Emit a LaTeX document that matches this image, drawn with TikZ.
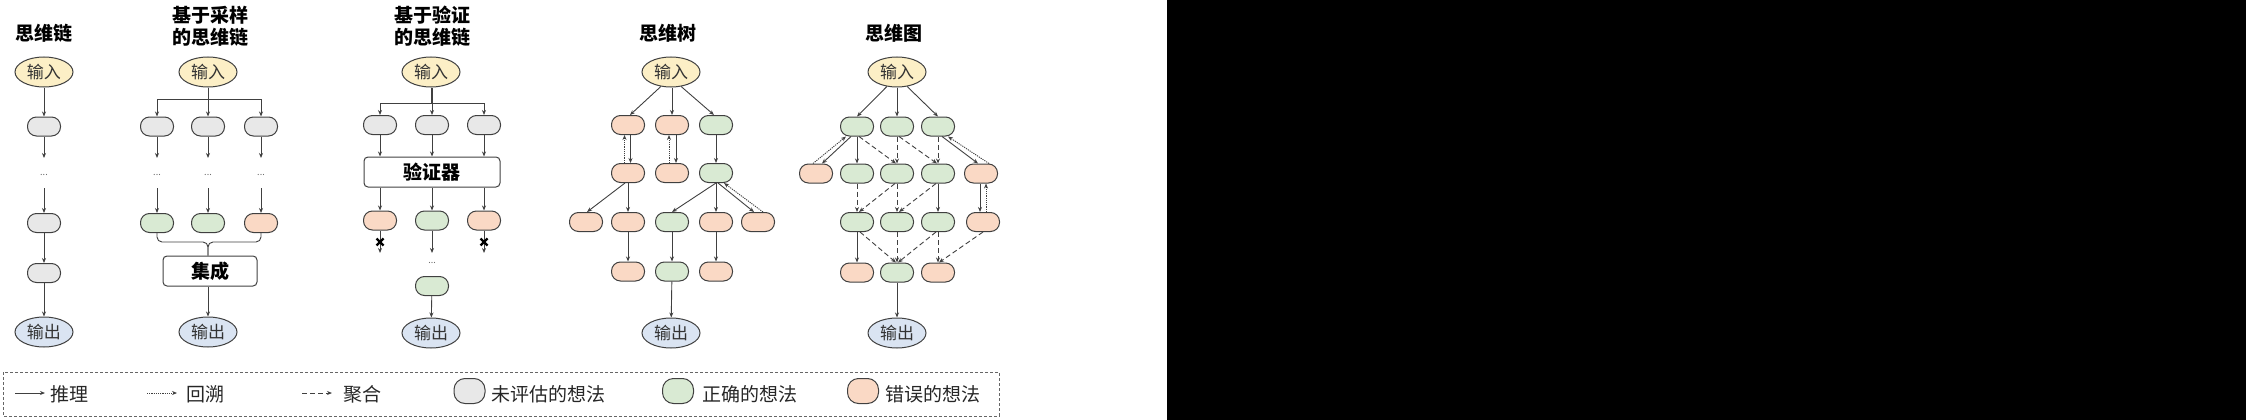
\documentclass[tikz,border=0pt]{standalone}
\usepackage{fontspec}
\setmainfont{Noto Sans CJK SC}
\usetikzlibrary{arrows.meta,calc,shapes.geometric}
\definecolor{edgec}{HTML}{404040}
\definecolor{grayc}{HTML}{E8E8E8}
\definecolor{greenc}{HTML}{D9EAD3}
\definecolor{orangec}{HTML}{FAD9C5}
\definecolor{yellowc}{HTML}{FCEFC6}
\definecolor{bluec}{HTML}{DAE4F2}
\begin{document}
\begin{tikzpicture}[x=1pt,y=-1pt,
  thought/.style={draw=edgec, line width=1pt, rounded corners=9pt, minimum width=33pt, minimum height=19pt, inner sep=0pt},
  gth/.style={thought, fill=grayc},
  gr/.style={thought, fill=greenc},
  bad/.style={thought, fill=orangec},
  inp/.style={ellipse, draw=edgec, line width=1pt, fill=yellowc, minimum width=58pt, minimum height=30pt, inner sep=0pt, font=\fontsize{17}{17}\selectfont, text=black!80},
  outp/.style={inp, fill=bluec},
  ttl/.style={font=\fontsize{19}{22}\selectfont\bfseries, align=center},
  boxn/.style={draw=edgec, line width=1pt, rounded corners=4pt, inner sep=0pt, font=\fontsize{19}{19}\selectfont\bfseries},
  dts/.style={font=\fontsize{9}{9}\selectfont, text=black!60, inner sep=0pt},
  arr/.style={draw=edgec, line width=0.9pt, -{Stealth[length=5pt,width=4pt]}},
  ln/.style={draw=edgec, line width=0.9pt},
  bk/.style={arr, dash pattern=on 1.2pt off 1pt},
  ag/.style={arr, dash pattern=on 5pt off 3pt},
  legt/.style={font=\fontsize{19}{19}\selectfont, text=black!85, anchor=west, inner sep=0pt},
  legn/.style={draw=edgec, line width=1pt, rounded corners=11pt, minimum width=31pt, minimum height=25pt, inner sep=0pt},
  xm/.style={line width=2.2pt, black}
]
\useasboundingbox (0,0) rectangle (2246,420);
\fill[black] (1167,0) rectangle (2246,420);

% ---------- Column 1: CoT ----------
\node[ttl] (t1) at (44,33) {思维链};
\node[inp] (a-in) at (44,72) {输入};
\node[gth] (a1) at (44,126.5) {};
\coordinate (a1e) at (44,158);
\node[dts] (adots) at (44,175) {...};
\coordinate (a2s) at (44,188);
\node[gth] (a2) at (44,223) {};
\node[gth] (a3) at (44,273) {};
\node[outp] (a-out) at (44,332) {输出};
\draw[arr] (a-in) -- (a1);
\draw[arr] (a1) -- (a1e);
\draw[arr] (a2s) -- (a2);
\draw[arr] (a2) -- (a3);
\draw[arr] (a3) -- (a-out);

% ---------- Column 2: CoT-SC ----------
\node[ttl] (t2) at (210,26) {基于采样\\的思维链};
\node[inp] (b-in) at (208,72) {输入};
\node[gth] (b1) at (157,126.5) {};
\node[gth] (b2) at (208,126.5) {};
\node[gth] (b3) at (261,126.5) {};
\draw[arr] (b-in.south) -- ++(0,12) -| (b1);
\draw[arr] (b-in.south) -- ++(0,12) -| (b3);
\draw[arr] (b-in) -- (b2);
\foreach \n/\x in {1/157,2/208,3/261}{
  \coordinate (b\n e) at (\x,158);
  \node[dts] (bdots\n) at (\x,175) {...};
  \coordinate (b\n s) at (\x,188);
  \draw[arr] (b\n) -- (b\n e);
}
\node[gr] (b4) at (157,223) {};
\node[gr] (b5) at (208,223) {};
\node[bad] (b6) at (261,223) {};
\draw[arr] (b1s) -- (b4);
\draw[arr] (b2s) -- (b5);
\draw[arr] (b3s) -- (b6);
\node[boxn, minimum width=94pt, minimum height=30pt] (ens) at (210,271) {集成};
\coordinate (bj) at (208,242);
\draw[ln, rounded corners=5pt] (b4.south) |- (bj) -- (ens.north -| bj);
\draw[ln, rounded corners=5pt] (b6.south) |- (bj) -- (ens.north -| bj);
\node[outp] (b-out) at (208,332) {输出};
\draw[arr] (ens.south -| b-out) -- (b-out);

% ---------- Column 3: verifier ----------
\node[ttl] (t3) at (432,26) {基于验证\\的思维链};
\node[inp] (c-in) at (431,72) {输入};
\node[gth] (c1) at (380,125) {};
\node[gth] (c2) at (432,125) {};
\node[gth] (c3) at (484,125) {};
\draw[arr] (c-in.south) -- ++(0,16) -| (c1);
\draw[arr] (c-in.south) -- ++(0,16) -| (c3);
\draw[arr] (c-in.south -| c2) -- (c2);
\node[boxn, minimum width=136pt, minimum height=30pt] (ver) at (432,172) {验证器};
\draw[arr] (c1) -- (c1 |- ver.north);
\draw[arr] (c2) -- (c2 |- ver.north);
\draw[arr] (c3) -- (c3 |- ver.north);
\node[bad] (c4) at (380,220.5) {};
\node[gr] (c5) at (432,220.5) {};
\node[bad] (c6) at (484,220.5) {};
\draw[arr] (ver.south -| c4) -- (c4);
\draw[arr] (ver.south -| c5) -- (c5);
\draw[arr] (ver.south -| c6) -- (c6);
\coordinate (c4e) at (380,253);
\coordinate (c5e) at (432,253);
\coordinate (c6e) at (484,253);
\draw[arr] (c4) -- (c4e);
\draw[arr] (c5) -- (c5e);
\draw[arr] (c6) -- (c6e);
\draw[xm] (376.5,238.5) -- (383.5,245.5) (376.5,245.5) -- (383.5,238.5);
\draw[xm] (480.5,238.5) -- (487.5,245.5) (480.5,245.5) -- (487.5,238.5);
\node[dts] (cdots) at (432,263) {...};
\node[gr] (c7) at (432,286) {};
\node[outp] (c-out) at (431,333) {输出};
\draw[arr] (c7) -- (c-out);

% ---------- Column 4: ToT ----------
\node[ttl] (t4) at (668,33) {思维树};
\node[inp] (t-in) at (671,72) {输入};
\node[bad] (t1a) at (628,125) {};
\node[bad] (t1b) at (672,125) {};
\node[gr]  (t1c) at (716,125) {};
\node[bad] (t2a) at (628,173) {};
\node[bad] (t2b) at (672,173) {};
\node[gr]  (t2c) at (716,173) {};
\node[bad] (t3a) at (586,222) {};
\node[bad] (t3b) at (628,222) {};
\node[gr]  (t3c) at (672,222) {};
\node[bad] (t3d) at (716,222) {};
\node[bad] (t3e) at (758,222) {};
\node[bad] (t4a) at (628,271.5) {};
\node[gr]  (t4b) at (672,271.5) {};
\node[bad] (t4c) at (716,271.5) {};
\node[outp] (t-out) at (671,333) {输出};
\draw[arr] (t-in.235) -- ([xshift=2pt]t1a.north);
\draw[arr] (t-in.south -| t1b) -- (t1b);
\draw[arr] (t-in.305) -- ([xshift=-2pt]t1c.north);
\draw[arr] ([xshift=2.5pt]t1a.south) -- ([xshift=2.5pt]t2a.north);
\draw[bk]  ([xshift=-3.5pt]t2a.north) -- ([xshift=-3.5pt]t1a.south);
\draw[arr] ([xshift=4pt]t1b.south) -- ([xshift=4pt]t2b.north);
\draw[bk]  ([xshift=-3pt]t2b.north) -- ([xshift=-3pt]t1b.south);
\draw[arr] (t1c) -- (t2c);
\draw[arr] ([xshift=-3pt]t2a.south) -- ([xshift=1pt]t3a.north);
\draw[arr] (t2a) -- (t3b);
\draw[arr] (t2c.south) -- (t3c.north);
\draw[arr] (t2c) -- (t3d);
\draw[arr] ([xshift=2pt]t2c.south) -- ([xshift=-4pt]t3e.north);
\draw[bk]  ([xshift=5pt]t3e.north) -- ([xshift=8pt]t2c.south);
\draw[arr] (t3b) -- (t4a);
\draw[arr] (t3c) -- (t4b);
\draw[arr] (t3d) -- (t4c);
\draw[arr] (t4b) -- (t-out);

% ---------- Column 5: GoT ----------
\node[ttl] (t5) at (894,33) {思维图};
\node[inp] (g-in) at (897,72) {输入};
\node[gr]  (g1a) at (857,126.5) {};
\node[gr]  (g1b) at (897,126.5) {};
\node[gr]  (g1c) at (938,126.5) {};
\node[bad] (g2x) at (816,173.5) {};
\node[gr]  (g2a) at (857,173.5) {};
\node[gr]  (g2b) at (897,173.5) {};
\node[gr]  (g2c) at (938,173.5) {};
\node[bad] (g2d) at (981,173.5) {};
\node[gr]  (g3a) at (857,222) {};
\node[gr]  (g3b) at (897,222) {};
\node[gr]  (g3c) at (938,222) {};
\node[bad] (g3d) at (983,222) {};
\node[bad] (g4a) at (857,272.5) {};
\node[gr]  (g4b) at (897,272.5) {};
\node[bad] (g4c) at (938,272.5) {};
\node[outp] (g-out) at (897,333) {输出};
\draw[arr] (g-in.235) -- (g1a.north);
\draw[arr] (g-in.south -| g1b) -- (g1b);
\draw[arr] (g-in.305) -- (g1c.north);
\draw[arr] ([xshift=-6pt]g1a.south) -- ([xshift=6pt]g2x.north);
\draw[bk]  ([xshift=-3pt]g2x.north) -- ([xshift=-11pt]g1a.south);
\draw[arr] (g1a) -- (g2a);
\draw[ag]  ([xshift=2pt]g1a.south) -- ([xshift=-1pt]g2b.north);
\draw[ag]  (g1b) -- (g2b);
\draw[ag]  ([xshift=2pt]g1b.south) -- ([xshift=-1pt]g2c.north);
\draw[ag]  (g1c) -- (g2c);
\draw[arr] ([xshift=4pt]g1c.south) -- ([xshift=-3pt]g2d.north);
\draw[bk]  ([xshift=8pt]g2d.north) -- ([xshift=10pt]g1c.south);
\draw[ag]  (g2a) -- (g3a);
\draw[ag]  ([xshift=-2pt]g2b.south) -- ([xshift=2pt]g3a.north);
\draw[ag]  (g2b) -- (g3b);
\draw[ag]  ([xshift=-2pt]g2c.south) -- ([xshift=2pt]g3b.north);
\draw[arr] (g2c) -- (g3c);
\draw[arr] ([xshift=-1pt]g2d.south) -- ([xshift=-3pt]g3d.north);
\draw[bk]  ([xshift=3pt]g3d.north) -- ([xshift=5pt]g2d.south);
\draw[arr] (g3a) -- (g4a);
\draw[ag]  ([xshift=3pt]g3a.south) -- ([xshift=-1pt]g4b.north);
\draw[ag]  (g3b) -- (g4b);
\draw[ag]  ([xshift=-2pt]g3c.south) -- ([xshift=1pt]g4b.north);
\draw[ag]  (g3c) -- (g4c);
\draw[ag]  (g3d.south) -- ([xshift=1pt]g4c.north);
\draw[arr] (g4b) -- (g-out);

% ---------- Legend ----------
\draw[draw=black!60, line width=0.8pt, dash pattern=on 3pt off 2pt] (3,372) rectangle (999,416);
\coordinate (l1s) at (15,393); \coordinate (l1e) at (45,393);
\draw[arr] (l1s) -- (l1e);
\node[legt] (l1t) at (50,394) {推理};
\coordinate (l2s) at (147,393); \coordinate (l2e) at (177,393);
\draw[bk] (l2s) -- (l2e);
\node[legt] (l2t) at (186,394) {回溯};
\coordinate (l3s) at (302,393); \coordinate (l3e) at (332,393);
\draw[ag] (l3s) -- (l3e);
\node[legt] (l3t) at (343,394) {聚合};
\node[legn, fill=grayc] (l4n) at (469.5,391) {};
\node[legt] (l4t) at (491,394) {未评估的想法};
\node[legn, fill=greenc] (l5n) at (678,391) {};
\node[legt] (l5t) at (702,394) {正确的想法};
\node[legn, fill=orangec] (l6n) at (863,391) {};
\node[legt] (l6t) at (885,394) {错误的想法};
\end{tikzpicture}
\end{document}
